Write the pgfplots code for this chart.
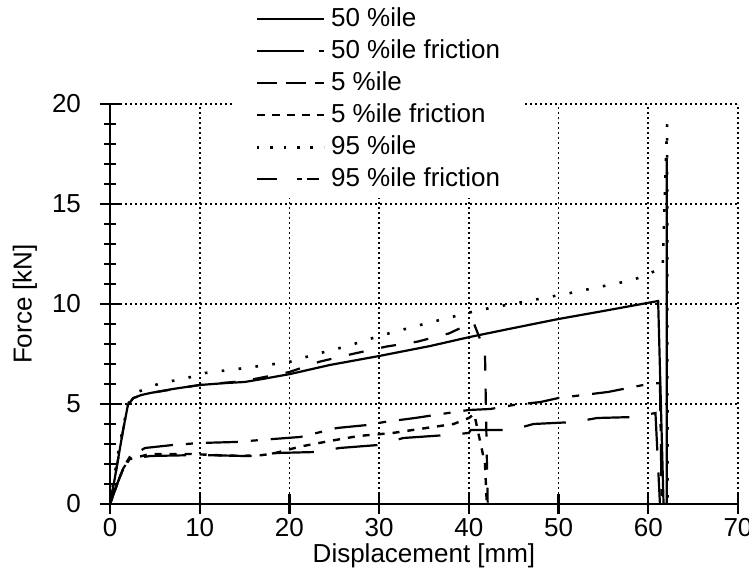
\documentclass[border=0pt]{standalone}
\usepackage{fontspec}
\setmainfont{Liberation Sans}
\usepackage{pgfplots}
\pgfplotsset{compat=1.18}

\begin{document}
\begin{tikzpicture}
\useasboundingbox (-55pt,-38.5pt) rectangle (319.5pt,252pt);
\begin{axis}[
    scale only axis,
    width=314pt, height=200pt,
    xmin=0, xmax=70, ymin=0, ymax=20,
    axis lines=left,
    axis line style={-, line width=1.3pt},
    xtick={0,10,...,70}, ytick={0,5,...,20},
    minor y tick num=4,
    tick align=center,
    major tick length=10pt,
    minor tick length=6pt,
    every tick/.style={black, line width=1.2pt},
    grid=major,
    major grid style={black, line width=0.8pt, dash pattern=on 0.9pt off 1.6pt},
    /pgf/number format/assume math mode=true,
    tick label style={font=\fontsize{13}{15}\selectfont},
    yticklabel style={xshift=-6pt},
    xticklabel style={yshift=1.5pt},
    every axis x label/.style={at={(axis description cs:0.5,-0.13)}, anchor=center},
    every axis y label/.style={at={(axis description cs:-0.1354,0.5)}, rotate=90, anchor=center},
    label style={font=\fontsize{13}{15}\selectfont},
    xlabel={Displacement [mm]},
    ylabel={Force [kN]},
    legend image code/.code={\draw[#1] (0pt,0pt) -- (33.5pt,0pt);},
    legend style={at={(axis description cs:0.196,1.26)}, anchor=north west,
        fill=white, draw=none, inner xsep=11pt, inner ysep=4pt,
        row sep=5pt, column sep=3pt, cells={anchor=west},
        nodes={inner sep=0pt, text height=9pt, text depth=2pt},
        font=\fontsize{13}{15}\selectfont},
]
% 50 %ile
\addplot[black, line width=1.1pt, forget plot] coordinates {
(0,0)(0.5,1.2)(1,2.5)(1.5,3.8)(2.0,4.95)(2.6,5.3)(3.5,5.45)(4.5,5.55)(7,5.75)(10,5.95)
(13,6.05)(15,6.1)(17,6.25)(20.1,6.5)(24.5,6.95)(30,7.4)(35.7,7.9)(40.1,8.35)(45,8.8)
(50,9.25)(55,9.65)(61.1,10.15)(61.7,0)(62.05,0)(62.05,17.3)};
% 50 %ile friction
\addplot[black, line width=1.1pt, dash pattern=on 16pt off 6.5pt on 3.5pt off 6.5pt, forget plot] coordinates {
(0,0)(0.8,1.0)(1.5,1.85)(2.2,2.35)(3.9,2.8)(7,2.95)(10,3.05)(14,3.1)(18.2,3.25)(21.2,3.35)
(25.3,3.8)(28.7,3.95)(30.6,4.1)(34,4.3)(37.7,4.55)(40,4.7)(42.4,4.75)(45,4.95)(48,5.1)
(50,5.3)(55.5,5.6)(60,6.0)(61.3,6.05)(61.5,0)};
% 5 %ile
\addplot[black, line width=1.1pt, dash pattern=on 7.5pt off 9pt, forget plot] coordinates {
(0,0)(0.5,1.2)(1,2.5)(1.5,3.8)(2.0,4.95)(2.6,5.3)(4.5,5.55)(10,5.95)(15,6.15)(20,6.6)
(23.4,7.12)(27,7.5)(30.8,7.87)(34.3,8.12)(37.8,8.53)(40.5,9.1)(41.2,8.3)(41.8,7.5)
(41.9,4.85)(42.1,0)};
% 5 %ile friction
\addplot[black, line width=1.2pt, dash pattern=on 3.5pt off 4pt, forget plot] coordinates {
(0,0)(0.8,1.0)(1.5,1.8)(2.2,2.25)(4.5,2.5)(9,2.5)(13,2.42)(16,2.4)(18,2.5)(21.2,2.87)
(24.5,3.15)(27.7,3.4)(31.5,3.55)(34.8,3.77)(38.3,4.0)(40,4.3)(40.6,4.5)(41.8,2.0)(42,0)};
% 95 %ile
\addplot[black, line width=1.3pt, dash pattern=on 1.3pt off 7.2pt, forget plot] coordinates {
(0,0)(1,2.8)(2,5.0)(3.1,5.6)(5,5.95)(6.9,6.15)(8.6,6.3)(10.6,6.55)(14.2,6.75)(17.5,6.95)
(20,7.1)(22.6,7.45)(26.5,7.9)(30,8.4)(35,9.0)(41.2,9.7)(46,10.1)(51.3,10.55)(58.3,11.2)
(61.6,11.8)(62.1,19.0)(62.15,0)};
% 95 %ile friction
\addplot[black, line width=1.1pt, dash pattern=on 21pt off 11pt, forget plot] coordinates {
(0,0)(0.8,1.0)(1.5,1.8)(2.2,2.25)(4.5,2.4)(10,2.45)(15,2.4)(18.6,2.55)(23,2.6)(25.6,2.8)
(29.9,2.95)(32.7,3.3)(37.6,3.45)(40,3.55)(40.2,3.7)(44.8,3.7)(47.2,4.0)(51.8,4.1)
(54.3,4.3)(58.5,4.35)(60.8,4.55)(61.3,0)};

\addlegendimage{black, line width=1.1pt}
\addlegendentry{50 \%ile}
\addlegendimage{black, line width=1.1pt, dash pattern=on 23.5pt off 7.5pt on 2.5pt off 5pt}
\addlegendentry{50 \%ile friction}
\addlegendimage{black, line width=1.1pt, dash pattern=on 10pt off 4.5pt}
\addlegendentry{5 \%ile}
\addlegendimage{black, line width=1.1pt, dash pattern=on 4pt off 3.5pt}
\addlegendentry{5 \%ile friction}
\addlegendimage{black, line width=1.3pt, dash pattern=on 1.3pt off 5.4pt}
\addlegendentry{95 \%ile}
\addlegendimage{black, line width=1.1pt, dash pattern=on 10pt off 10pt on 2.5pt off 2.5pt on 6pt off 5pt}
\addlegendentry{95 \%ile friction}
\end{axis}
\end{tikzpicture}
\end{document}
